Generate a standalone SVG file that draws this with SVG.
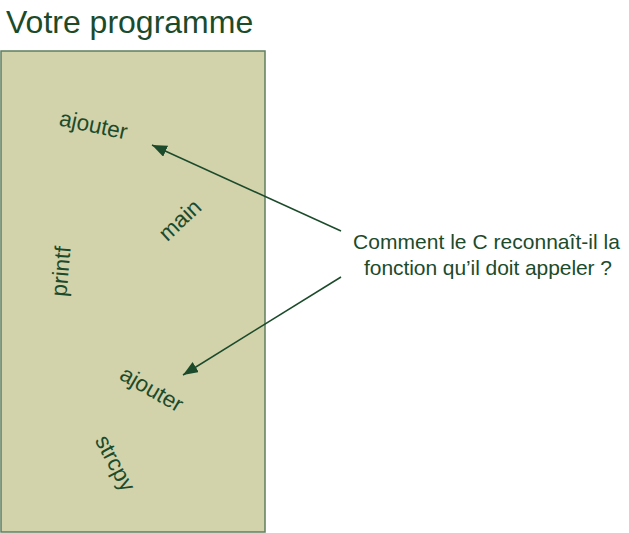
<svg xmlns="http://www.w3.org/2000/svg" width="629" height="533" viewBox="0 0 629 533">
<style>
.t{font-family:"Liberation Sans",Arial,sans-serif;fill:#1b4b2b}
.fn{font-size:22.5px;text-anchor:middle}
.c{stroke:#1b4b2b;stroke-width:1.5;fill:none}
</style>
<defs>
<marker id="ah" markerUnits="userSpaceOnUse" markerWidth="16" markerHeight="12" refX="15" refY="6" orient="auto">
<path d="M0,0 L15,6 L0,12 Z" fill="#1b4b2b"/>
</marker>
</defs>
<rect width="629" height="533" fill="#ffffff"/>
<text class="t" x="6" y="33" font-size="32">Votre programme</text>
<g id="programme">
<rect x="1" y="51" width="264" height="481" fill="#d2d2ab" stroke="#5f7f5f" stroke-width="1.5"/>
</g>
<g id="ajouter1"><text class="t fn" x="92" y="132.4" transform="rotate(12 92 132.4)">ajouter</text></g>
<g id="main"><text class="t fn" x="185" y="225.5" transform="rotate(-43 185 225.5)">main</text></g>
<g id="printf"><text class="t fn" x="68.5" y="272" transform="rotate(-85 68.5 272)">printf</text></g>
<g id="ajouter2"><text class="t fn" x="148" y="395.6" transform="rotate(30 148 395.6)">ajouter</text></g>
<g id="strcpy"><text class="t fn" x="108.6" y="466.8" transform="rotate(62 108.6 466.8)">strcpy</text></g>
<g id="question">
<text class="t" font-size="21"><tspan x="353" y="249" textLength="267">Comment le C reconnaît-il la</tspan><tspan x="364" y="275" textLength="248">fonction qu’il doit appeler ?</tspan></text>
</g>
<g id="connectors">
<line class="c" x1="341" y1="231" x2="152" y2="145" marker-end="url(#ah)"/>
<line class="c" x1="341" y1="277" x2="183" y2="375" marker-end="url(#ah)"/>
</g>
</svg>
